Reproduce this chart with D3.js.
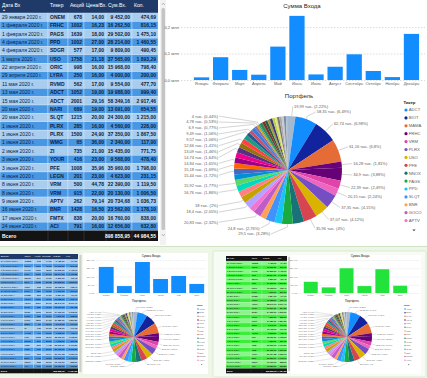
<!DOCTYPE html>
<html><head><meta charset="utf-8">
<script src="https://cdn.jsdelivr.net/npm/d3@7/dist/d3.min.js"></script>
<style>
html,body{margin:0;padding:0;background:#fff;overflow:hidden}
svg{display:block;font-family:"Liberation Sans",Arial,sans-serif}
</style></head><body>
<svg id="chart" width="427" height="378" viewBox="0 0 427 378"></svg>
<script>
// ---------------- DATA ----------------
const tableHeaders = ["Дата Вх","Тикер","Акций","Цена/Вх.","Сум.Вх.","Кол."];
const tableDates = ["29 января 2020 г.","1 февраля 2020 г.","1 февраля 2020 г.","4 февраля 2020 г.","4 февраля 2020 г.","1 марта 2020 г.","22 апреля 2020 г.","29 апреля 2020 г.","11 мая 2020 г.","13 мая 2020 г.","15 мая 2020 г.","20 мая 2020 г.","20 мая 2020 г.","1 июня 2020 г.","1 июня 2020 г.","1 июня 2020 г.","2 июня 2020 г.","3 июня 2020 г.","3 июня 2020 г.","4 июня 2020 г.","8 июня 2020 г.","8 июня 2020 г.","9 июня 2020 г.","16 июня 2020 г.","17 июня 2020 г.","24 июня 2020 г."];
const tableTickers = ["ONEM","FRHC","PAGS","PPD","SDGR","USO","ORIC","LYRA","RVMD","ADCT","ADCT","NARI","SLQT","PLRX","PLRX","WMG","ZI","YOUR","PFE","LEGN","VRM","VRM","APTV","BNR","FMTX","ACI"];
const tableShares = [678,1002,1639,1002,577,1758,998,250,562,1052,2001,689,1215,285,1500,65,735,416,1008,201,500,915,262,1428,838,791];
const tablePrices = [14.00,16.23,18.00,27.00,17.00,21.18,16.00,16.00,17.00,19.00,29.16,19.00,20.00,16.00,24.90,36.00,21.00,23.00,35.96,23.00,44.78,22.00,79.14,16.50,20.00,16.00];
const tableSums = [9452.00,16262.50,29502.00,28214.00,9809.00,37565.00,15968.00,4000.00,9554.00,19988.00,58349.16,13091.00,24300.00,4560.00,37350.00,2340.00,15435.00,9568.00,35960.00,4623.00,22390.00,20130.00,20734.68,23562.00,16760.00,12656.00];
const tableKol = [474.69,816.15,1475.10,1460.55,490.45,1893.29,798.40,200.00,477.70,999.40,2917.46,654.55,1215.00,228.00,1867.50,117.00,771.75,478.40,1798.00,231.15,1119.50,1006.50,1036.73,1178.10,838.00,632.80];
const tableTotalLabel = "Всего";
const tableTotalSum = 898858.95;
const tableTotalKol = 44984.55;

const months = ["Январь","Февраль","Март","Апрель","Май","Июнь","Июль","Август","Сентябрь","Октябрь","Ноябрь","Декабрь"];
const monthSums = [0.010,0.086,0.038,0.020,0.126,0.242,0.021,0.050,0.097,0.034,0.011,0.174]; // млн
const barTicks = [0,0.1,0.2];

// portfolio slices, clockwise from 12 o'clock (тыс.)
const pieValues = [19.99,58.35,62.74,61.16,16.28,34.9,22.39,20.15,37.35,37.07,35.96,30,29.5,20,24.8,16,20.83,15,18.4,18,16,16.76,15.92,15,15.44,15.18,14.84,14,14.74,13.09,12.66,12,9.57,9.49,10,6.9,4.78,4,8.2,7.6,7.3,7.1,7.0,6.6,6.4,6.2,6.0,5.9,5.8,5.66];
const pieLabelled = [0,1,2,3,4,5,6,7,8,9,10,12,14,16,18,19,21,22,24,25,26,28,29,30,32,33,35,36,37];
const pieColors = ["#A4B8D0","#118DFF","#12239E","#E66C37","#6B007B","#650077","#E044A7","#EE66C2","#744EC2","#D9B300","#D64550","#197278","#1AAB40","#15C6F4","#4092FF","#FFA058","#BE5DC9","#F472D0","#B5A1FF","#C4A200","#FF8080","#00DBBC","#5BD667","#0091D5","#4668C5","#FF6300","#99008A","#EC008C","#533285","#99700A","#FF4141","#1F9A85","#255A8F","#C8506C","#3B7DD8","#8C6BB1","#DBA800","#2AA198","#2E8B57","#7F312F","#2F5E3A","#A39B4B","#3D3B7A","#B7D24A","#E8E07A","#777777","#A8A8A8","#C9C9C9","#7C8FA8","#B0C0D4"];
const legendTitle = "Тикер";
const legendNames = ["ADCT","BIOT","MAMA","FRHC","VRM","PLRX","USO","PFE","NNOX","PAGS","PPD","SLQT","BNR","GOCO","APTV"];
const legendColors = ["#118DFF","#12239E","#E66C37","#6B007B","#E044A7","#744EC2","#D9B300","#D64550","#197278","#1AAB40","#15C6F4","#4092FF","#FFA058","#BE5DC9","#F472D0"];

const thumbCats = ["Январь","Февраль","Март","Апрель","Май","Июнь"];
const thumbLeftValues = [158,42,188,85,103,55];   // тыс.
const thumbRightValues = [68,34,150,42,144,44];   // тыс.
const thumbTicks = [0,50,100,150,200];

// ---------------- HELPERS ----------------
const FONT = '"Liberation Sans",Arial,sans-serif';
function fmtMoney(v){ const s=v.toFixed(2).split('.'); return s[0].replace(/\B(?=(\d{3})+(?!\d))/g,' ')+','+s[1]; }
function fmtShort(v){ return String(+v.toFixed(2)).replace('.',','); }
const svg = d3.select('#chart');

function drawTable(g, o){
  const cols=o.cols, W=cols[cols.length-1].x1;
  const ry = d3.scaleBand().domain(d3.range(o.rows.length)).range([o.y+o.headerH, o.yTotal]);
  g.append('rect').attr('x',o.x).attr('y',o.y).attr('width',W).attr('height',o.headerH).attr('fill',o.headerFill);
  g.selectAll(null).data(o.headers).join('text')
    .attr('x',(d,j)=>o.x+cols[j].x0+o.pad).attr('y',o.y+o.headerTextY).attr('dy','0.35em')
    .attr('font-size',o.fs).attr('fill','#fff').text(d=>d);
  if(o.arrow) g.append('text').attr('x',o.x+o.pad+0.5).attr('y',o.y+o.headerH-2.2).attr('font-size',o.fs*0.6).attr('fill','#fff').text('▲');
  const cells=[];
  o.rows.forEach((r,i)=>r.forEach((v,j)=>cells.push({i,j,v})));
  g.selectAll(null).data(cells).join('rect')
    .attr('x',d=>o.x+cols[d.j].x0).attr('y',d=>ry(d.i))
    .attr('width',d=>cols[d.j].x1-cols[d.j].x0).attr('height',ry.bandwidth())
    .attr('fill',d=>o.rowFills[d.i%2]).attr('stroke',o.gridStroke).attr('stroke-width',o.gridW);
  g.selectAll(null).data(cells).join('text')
    .attr('x',d=>cols[d.j].align==='end'? o.x+cols[d.j].x1-o.pad : o.x+cols[d.j].x0+o.pad)
    .attr('y',d=>ry(d.i)+ry.bandwidth()/2).attr('dy','0.35em')
    .attr('text-anchor',d=>cols[d.j].align).attr('font-size',o.fs)
    .attr('font-weight',d=>cols[d.j].bold?'bold':'normal')
    .attr('fill',o.textColor).text(d=>d.v);
  g.append('rect').attr('x',o.x).attr('y',o.yTotal).attr('width',W).attr('height',o.totalH).attr('fill','#141414');
  cols.forEach((c,j)=>{ if(j>0) g.append('line').attr('x1',o.x+c.x0).attr('x2',o.x+c.x0).attr('y1',o.yTotal).attr('y2',o.yTotal+o.totalH).attr('stroke','#555').attr('stroke-width',o.gridW); });
  g.selectAll(null).data(o.totals).join('text')
    .attr('x',(d,j)=>cols[j].align==='end'? o.x+cols[j].x1-o.pad : o.x+cols[j].x0+o.pad)
    .attr('y',o.yTotal+o.totalH/2).attr('dy','0.35em')
    .attr('text-anchor',(d,j)=>cols[j].align).attr('font-size',o.fs).attr('font-weight','bold')
    .attr('fill','#fff').text(d=>d==null?'':d);
}

function drawBars(g, o){
  const x = d3.scaleBand().domain(o.cats).range(o.band).paddingInner(o.pi).paddingOuter(o.po);
  const y = d3.scaleLinear().domain([0,d3.max(o.ticks)]).range([o.yBase,o.yTop]);
  const ay = g.append('g').attr('transform',`translate(${o.gx0},0)`)
    .call(d3.axisLeft(y).tickValues(o.ticks).tickFormat(o.fmt).tickSize(-(o.gx1-o.gx0)).tickPadding(o.tp));
  ay.attr('font-size',o.fs).attr('font-family',FONT);
  ay.select('.domain').remove();
  ay.selectAll('line').attr('stroke','#b8b8b8').attr('stroke-dasharray',o.dash).attr('stroke-width',o.gw);
  ay.selectAll('text').attr('fill','#605e5c');
  g.selectAll(null).data(o.vals).join('rect')
    .attr('x',(d,i)=>x(o.cats[i])).attr('y',d=>y(d)).attr('width',x.bandwidth())
    .attr('height',d=>o.yBase-y(d)).attr('fill',o.color);
  const ax = g.append('g').attr('transform',`translate(0,${o.yBase})`)
    .call(d3.axisBottom(x).tickSize(0).tickPadding(o.cp));
  ax.attr('font-size',o.cfs).attr('font-family',FONT);
  ax.select('.domain').remove();
  ax.selectAll('text').attr('fill','#605e5c');
  g.append('text').attr('x',o.tx).attr('y',o.ty).attr('dy','0.35em').attr('text-anchor','middle')
    .attr('font-size',o.tfs).attr('fill','#252423').text(o.title);
}

function drawPie(g, o){
  const k=o.r/54;
  const total=d3.sum(pieValues);
  const arcs=d3.pie().sort(null).value(d=>d)(pieValues);
  const arcGen=d3.arc().innerRadius(0).outerRadius(o.r);
  g.append('g').attr('transform',`translate(${o.cx},${o.cy})`)
    .selectAll('path').data(arcs).join('path').attr('d',arcGen).attr('fill',(d,i)=>pieColors[i]);
  const R=o.r+10*k, sp=5.9*k;
  const items=pieLabelled.map(i=>{const a=arcs[i];const m=(a.startAngle+a.endAngle)/2;
    return {i,m,side:Math.sin(m)>=0?1:-1,y:o.cy-R*Math.cos(m),v:pieValues[i]};});
  [1,-1].forEach(side=>{
    const L=items.filter(d=>d.side===side).sort((a,b)=>a.y-b.y);
    const minY=o.cy-R-2*k, maxY=o.cy+R;
    for(let j=0;j<L.length;j++) L[j].y = j===0? Math.max(L[j].y,minY) : Math.max(L[j].y,L[j-1].y+sp);
    for(let j=L.length-1;j>=0;j--) L[j].y = j===L.length-1? Math.min(L[j].y,maxY) : Math.min(L[j].y,L[j+1].y-sp);
    L.forEach(d=>{const dy=d.y-o.cy;const w=Math.sqrt(Math.max(0,R*R-dy*dy));
      if(side===1) d.x=o.cx+w+1.5*k;
      else {const c=o.cx-w-1.5*k; d.x = dy>o.r? Math.min(c,o.cx-18*k) : Math.min(c,o.cx-70*k);} });
  });
  const lg=g.append('g');
  lg.selectAll('polyline').data(items).join('polyline')
    .attr('points',d=>{const p1=[o.cx+o.r*Math.sin(d.m),o.cy-o.r*Math.cos(d.m)];
      const p2=[o.cx+(o.r+3*k)*Math.sin(d.m),o.cy-(o.r+3*k)*Math.cos(d.m)];
      const p3=[d.x-d.side*1*k,d.y]; return [p1,p2,p3].map(p=>p.join(',')).join(' ');})
    .attr('fill','none').attr('stroke','#a19f9d').attr('stroke-width',0.45*Math.max(k,0.6));
  lg.selectAll('text').data(items).join('text')
    .attr('x',d=>d.x).attr('y',d=>d.y).attr('dy','0.35em')
    .attr('text-anchor',d=>d.side===1?'start':'end').attr('font-size',o.fs).attr('fill','#605e5c')
    .text(d=>`${fmtShort(d.v)} тыс. (${fmtShort(d.v/total*100)}%)`);
  g.append('text').attr('x',o.tx).attr('y',o.ty).attr('dy','0.35em').attr('text-anchor','middle')
    .attr('font-size',o.tfs).attr('fill','#252423').text('Портфель');
  // legend
  g.append('text').attr('x',o.legX-2.6*k).attr('y',o.legTitleY).attr('dy','0.35em')
    .attr('font-size',o.legFs).attr('font-weight','bold').attr('fill','#252423').text(legendTitle);
  const leg=g.append('g');
  leg.selectAll('circle').data(legendNames).join('circle')
    .attr('cx',o.legX).attr('cy',(d,i)=>o.legY+i*o.legStep).attr('r',1.6*k).attr('fill',(d,i)=>legendColors[i]);
  leg.selectAll('text').data(legendNames).join('text')
    .attr('x',o.legX+2.8*k).attr('y',(d,i)=>o.legY+i*o.legStep).attr('dy','0.35em')
    .attr('font-size',o.legFs).attr('fill','#605e5c').text(d=>d);
  const ay=o.legY+legendNames.length*o.legStep+1*k, axx=o.legX+8*k;
  g.append('path').attr('d',`M${axx-1.6*k},${ay} L${axx+1.6*k},${ay} L${axx},${ay+1.8*k} Z`).attr('fill','#444');
}

// ---------------- LAYOUT ----------------
svg.append('rect').attr('width',427).attr('height',378).attr('fill','#fff');
svg.append('rect').attr('x',0).attr('y',246).attr('width',427).attr('height',132).attr('fill','#eef6e8');
svg.append('line').attr('x1',0).attr('x2',427).attr('y1',246.5).attr('y2',246.5).attr('stroke','#cfe2c4').attr('stroke-width',1);

const tableRows = tableDates.map((d,i)=>[d,tableTickers[i],String(tableShares[i]),fmtMoney(tablePrices[i]),fmtMoney(tableSums[i]),fmtMoney(tableKol[i])]);
const tableTotals = [tableTotalLabel,null,null,null,fmtMoney(tableTotalSum),fmtMoney(tableTotalKol)];
const mainCols=[{x0:0,x1:48,align:'start'},{x0:48,x1:68,align:'start',bold:true},{x0:68,x1:84,align:'end',bold:true},{x0:84,x1:106,align:'end',bold:true},{x0:106,x1:132,align:'end',bold:true},{x0:132,x1:158,align:'end',bold:true}];

// main table
drawTable(svg.append('g'),{x:0,y:0,cols:mainCols,headers:tableHeaders,rows:tableRows,totals:tableTotals,
  headerH:13,headerTextY:5.5,yTotal:230.5,totalH:10.5,fs:5,pad:2,headerFill:'#1f3a68',
  rowFills:['#a9cdef','#4797e5'],gridStroke:'#d8e8f8',gridW:0.4,textColor:'#0e1f3d',arrow:true});
// main scrollbar
svg.append('rect').attr('x',160).attr('y',0).attr('width',6).attr('height',245).attr('fill','#f2f2f2');
svg.append('rect').attr('x',161.5).attr('y',8).attr('width',3.5).attr('height',222).attr('rx',1.5).attr('fill','#c4c4c4');
svg.append('path').attr('d','M161.8,5 L163.3,3 L164.8,5').attr('fill','none').attr('stroke','#888').attr('stroke-width',0.5);
svg.append('path').attr('d','M161.8,234 L163.3,236 L164.8,234').attr('fill','none').attr('stroke','#888').attr('stroke-width',0.5);

// main bar chart
drawBars(svg.append('g'),{cats:months,vals:monthSums,ticks:barTicks,fmt:v=>d3.format('.1f')(v).replace('.',',')+' млн',
  band:[192,421],pi:0.2,po:0.1,yBase:80,yTop:27,gx0:181,gx1:425,tp:2,fs:4.2,cfs:4,cp:2.5,dash:'1.5,1.5',gw:0.5,
  color:'#118DFF',title:'Сумма Входа',tx:302,ty:5.5,tfs:6});
// main pie
drawPie(svg.append('g'),{cx:288,cy:170,r:54,fs:4,legX:406,legY:110,legStep:7.9,legTitleY:103,legFs:4.2,tx:299,ty:96,tfs:6});

// ---- bottom-left thumbnail ----
const tl=svg.append('g');
drawTable(tl,{x:0,y:254,cols:mainCols.map(c=>({...c,x0:c.x0*78/158,x1:c.x1*78/158})),headers:tableHeaders,rows:tableRows,totals:tableTotals,
  headerH:5.5,headerTextY:2.7,yTotal:368.5,totalH:4.8,fs:2.2,pad:0.8,headerFill:'#1f3a68',
  rowFills:['#a9cdef','#4797e5'],gridStroke:'#d8e8f8',gridW:0.2,textColor:'#0e1f3d'});
tl.append('rect').attr('x',79.3).attr('y',255).attr('width',2.2).attr('height',117).attr('fill','#cdcdcd');
tl.append('rect').attr('x',83).attr('y',253).attr('width',125).attr('height',121).attr('fill','#fff');
drawBars(tl,{cats:thumbCats,vals:thumbLeftValues,ticks:thumbTicks,fmt:v=>v+' тыс.',
  band:[97,206],pi:0.18,po:0.1,yBase:293,yTop:260,gx0:96,gx1:206,tp:1.2,fs:2.1,cfs:2,cp:1.3,dash:'0.8,0.8',gw:0.3,
  color:'#118DFF',title:'Сумма Входа',tx:151,ty:256.3,tfs:3});
drawPie(tl,{cx:134,cy:337,r:25,fs:1.9,legX:198,legY:309,legStep:3.66,legTitleY:305.3,legFs:2,tx:139,ty:300.5,tfs:3});

// ---- bottom-right thumbnail ----
const tr=svg.append('g');
tr.append('rect').attr('x',213).attr('y',251).attr('width',213).attr('height',126).attr('rx',1.5).attr('fill','#f6fbf3').attr('stroke','#cfe1c4').attr('stroke-width',0.6);
const greenRows = tableRows.map(r=>[r[0],r[1],r[4],r[5]]);
drawTable(tr,{x:226,y:256,cols:[{x0:0,x1:25,align:'start'},{x0:25,x1:36,align:'start',bold:true},{x0:36,x1:51,align:'end',bold:true},{x0:51,x1:61,align:'end',bold:true}],
  headers:[tableHeaders[0],tableHeaders[1],tableHeaders[4],tableHeaders[5]],rows:greenRows,
  totals:[tableTotalLabel,null,fmtMoney(tableTotalSum),fmtMoney(tableTotalKol)],
  headerH:5,headerTextY:2.5,yTotal:368.5,totalH:4.8,fs:2.1,pad:0.7,headerFill:'#151515',
  rowFills:['#8af58a','#3aee3a'],gridStroke:'#c8f8c8',gridW:0.2,textColor:'#102010'});
tr.append('rect').attr('x',288).attr('y',257).attr('width',2).attr('height',114).attr('fill','#cdcdcd');
tr.append('rect').attr('x',291).attr('y',255).attr('width',130).attr('height',119).attr('fill','#fff');
drawBars(tr,{cats:thumbCats,vals:thumbRightValues,ticks:thumbTicks,fmt:v=>v+' тыс.',
  band:[302,409],pi:0.22,po:0.1,yBase:293,yTop:260,gx0:299,gx1:420,tp:1.2,fs:2.1,cfs:2,cp:1.3,dash:'0.8,0.8',gw:0.3,
  color:'#22E33C',title:'Сумма Входа',tx:360,ty:256.3,tfs:3});
drawPie(tr,{cx:347,cy:337,r:25,fs:1.9,legX:405,legY:309,legStep:3.66,legTitleY:305.3,legFs:2,tx:352,ty:300.5,tfs:3});
</script></body></html>
